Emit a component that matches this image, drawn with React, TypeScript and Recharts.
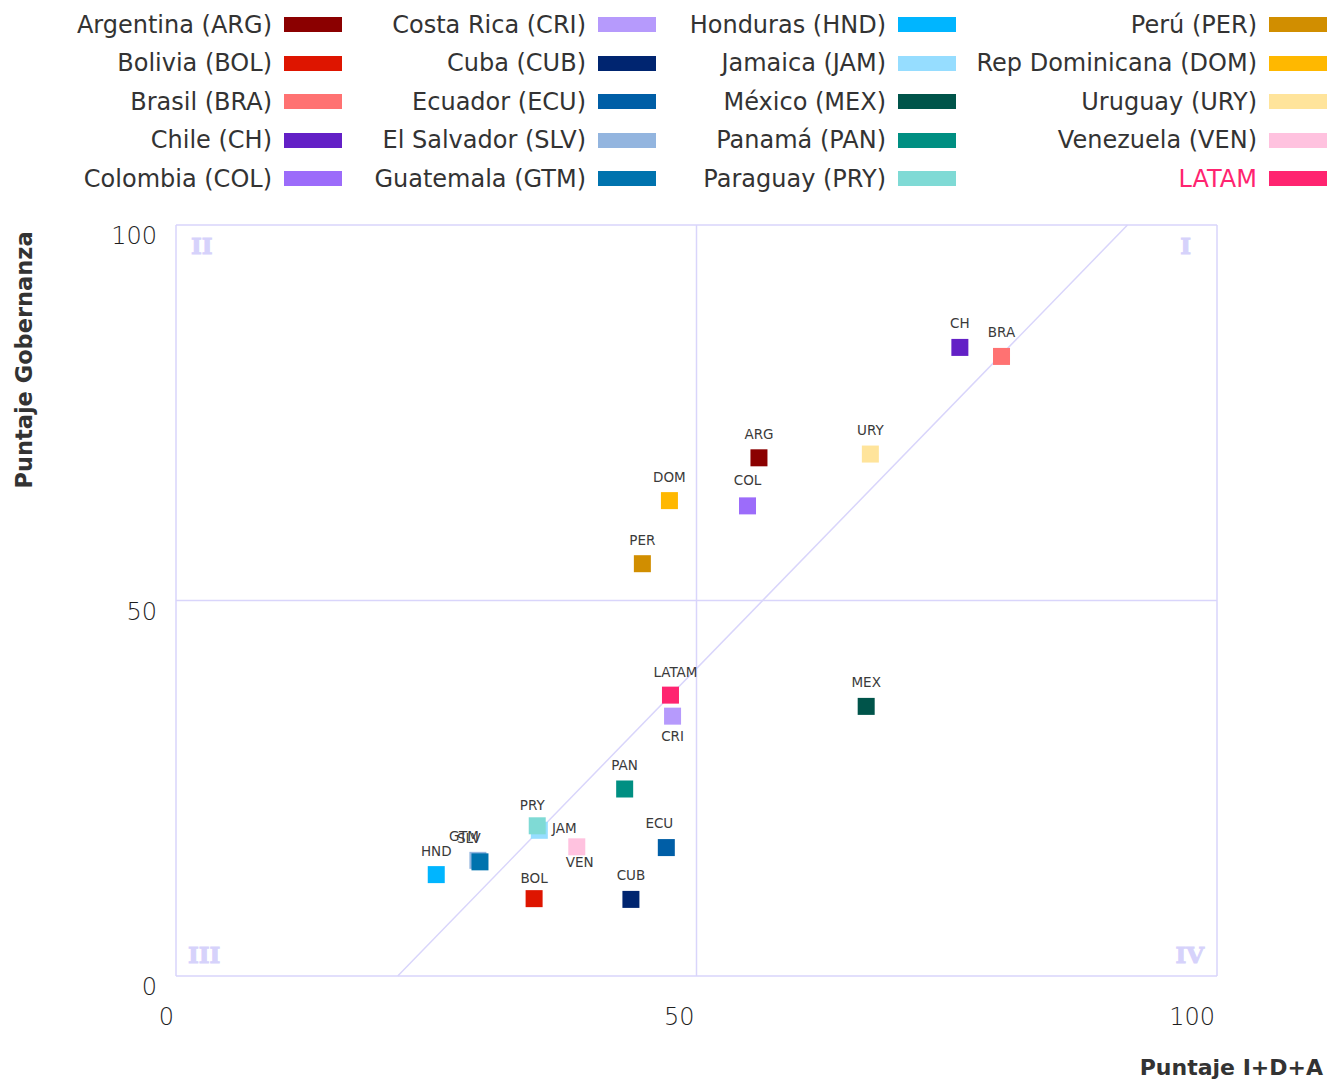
import React from 'react';
import { ScatterChart, Scatter, XAxis, YAxis, CartesianGrid, ReferenceLine, ReferenceArea } from 'recharts';

const codes = ['ARG', 'BOL', 'BRA', 'CH', 'COL', 'CRI', 'CUB', 'ECU', 'SLV', 'GTM', 'HND', 'JAM', 'MEX', 'PAN', 'PRY', 'PER', 'DOM', 'URY', 'VEN', 'LATAM'];
const names = [
  'Argentina (ARG)', 'Bolivia (BOL)', 'Brasil (BRA)', 'Chile (CH)', 'Colombia (COL)',
  'Costa Rica (CRI)', 'Cuba (CUB)', 'Ecuador (ECU)', 'El Salvador (SLV)', 'Guatemala (GTM)',
  'Honduras (HND)', 'Jamaica (JAM)', 'México (MEX)', 'Panamá (PAN)', 'Paraguay (PRY)',
  'Perú (PER)', 'Rep Dominicana (DOM)', 'Uruguay (URY)', 'Venezuela (VEN)', 'LATAM',
];
// Puntaje I+D+A
const idaScores = [56.0, 34.4, 79.3, 75.3, 54.9, 47.7, 43.7, 47.1, 29.0, 29.2, 25.0, 34.9, 66.3, 43.1, 34.7, 44.8, 47.4, 66.7, 38.5, 47.5];
// Puntaje Gobernanza
const govScores = [69.0, 10.3, 82.5, 83.7, 62.6, 34.6, 10.2, 17.1, 15.4, 15.2, 13.5, 19.4, 35.9, 24.9, 20.0, 54.9, 63.3, 69.5, 17.2, 37.4];
const colors = [
  '#8b0000', '#de1500', '#ff7272', '#6320c6', '#9c6cfa',
  '#b69afc', '#002570', '#005ea6', '#93b5df', '#0073ae',
  '#00b5ff', '#96ddff', '#00544a', '#008f82', '#7fdad5',
  '#d18e00', '#ffb800', '#ffe49b', '#ffc2df', '#ff2470',
];
const axisTicks = [0, 50, 100];
const trendLine = [{ x: 21.3, y: 0 }, { x: 91.4, y: 100 }];

// label offsets (px) relative to marker centre, default is above
const labelOffset: Record<string, [number, number]> = {
  CRI: [0, 25], VEN: [3, 20], JAM: [25, 3], ECU: [-7, -20], GTM: [-16, -21],
  SLV: [-9, -17], PRY: [-5, -16], LATAM: [5, -18], BOL: [0, -16], COL: [0, -21],
};

const lavender = '#d9d5fb';
const FONT = '"DejaVu Sans", sans-serif';

const points = codes.map((code, i) => ({ code, x: idaScores[i], y: govScores[i] }));

const SquareMark = (color: string) => (props: any) => {
  const { cx, cy, payload } = props;
  const [dx, dy] = labelOffset[payload.code] || [0, -19];
  return (
    <g>
      <rect x={cx - 8.5} y={cy - 8.5} width={17} height={17} fill={color} />
      <text x={cx + dx} y={cy + dy} textAnchor="middle" fontFamily={FONT} fontSize={13.5} fill="#3a3a3a">
        {payload.code}
      </text>
    </g>
  );
};

const XTick = (props: any) => {
  const { x, y, payload } = props;
  return (
    <text x={x - 2} y={y + 49} textAnchor="end" fontFamily={FONT} fontSize={24} fontWeight={300} fill="#1e1e1e">
      {payload.value}
    </text>
  );
};

const YTick = (props: any) => {
  const { x, y, payload } = props;
  return (
    <text x={x - 19} y={y + 19} textAnchor="end" fontFamily={FONT} fontSize={24} fontWeight={300} fill="#1e1e1e">
      {payload.value}
    </text>
  );
};

const quadrantLabel = (text: string, corner: string) => (props: any) => {
  const { x, y, width, height } = props.viewBox;
  let tx = x + 15;
  let ty = y + 29;
  let anchor: 'start' | 'end' = 'start';
  if (corner === 'tr') { tx = x + width - 26; anchor = 'end'; }
  if (corner === 'bl') { tx = x + 12; ty = y + height - 13; }
  if (corner === 'br') { tx = x + width - 13; ty = y + height - 13; anchor = 'end'; }
  return (
    <text
      x={tx}
      y={ty}
      textAnchor={anchor}
      fontFamily='"DejaVu Serif", serif'
      fontWeight="bold"
      fontSize={23}
      fill="#d6d2fb"
      stroke="#d6d2fb"
      strokeWidth={1}
    >
      {text}
    </text>
  );
};

const legendColumnsRight = [342, 656, 956, 1327];

function LegendBlock() {
  return (
    <>
      {codes.map((code, i) => {
        const col = Math.floor(i / 5);
        const row = i % 5;
        return (
          <div
            key={code}
            style={{
              position: 'absolute',
              right: 1328 - legendColumnsRight[col],
              top: 24.5 + row * 38.5 - 19,
              height: 38,
              display: 'flex',
              alignItems: 'center',
              justifyContent: 'flex-end',
              whiteSpace: 'nowrap',
              fontFamily: FONT,
              fontSize: 24,
              color: code === 'LATAM' ? colors[i] : '#333',
            }}
          >
            <span>{names[i]}</span>
            <span style={{ display: 'inline-block', width: 58, height: 15, marginLeft: 12, background: colors[i] }} />
          </div>
        );
      })}
    </>
  );
}

export default function App() {
  return (
    <div style={{ position: 'relative', width: 1328, height: 1082, background: '#fff' }}>
      <style>{'body{margin:0}'}</style>
      <ScatterChart width={1328} height={1082} margin={{ top: 225, right: 111, bottom: 0, left: 0 }}>
        <CartesianGrid stroke={lavender} strokeWidth={1.5} />
        <XAxis
          type="number"
          dataKey="x"
          domain={[0, 100]}
          ticks={axisTicks}
          height={106}
          axisLine={false}
          tickLine={false}
          tickSize={0}
          tickMargin={0}
          tick={<XTick />}
          interval={0}
        />
        <YAxis
          type="number"
          dataKey="y"
          domain={[0, 100]}
          ticks={axisTicks}
          width={176}
          axisLine={false}
          tickLine={false}
          tickSize={0}
          tickMargin={0}
          tick={<YTick />}
          interval={0}
        />
        <ReferenceArea x1={0} x2={50} y1={50} y2={100} fillOpacity={0} strokeOpacity={0} label={quadrantLabel('II', 'tl')} />
        <ReferenceArea x1={50} x2={100} y1={50} y2={100} fillOpacity={0} strokeOpacity={0} label={quadrantLabel('I', 'tr')} />
        <ReferenceArea x1={0} x2={50} y1={0} y2={50} fillOpacity={0} strokeOpacity={0} label={quadrantLabel('III', 'bl')} />
        <ReferenceArea x1={50} x2={100} y1={0} y2={50} fillOpacity={0} strokeOpacity={0} label={quadrantLabel('IV', 'br')} />
        <ReferenceLine segment={trendLine} stroke={lavender} strokeWidth={1.5} />
        {points.map((p, i) => (
          <Scatter
            key={p.code}
            name={names[i]}
            data={[p]}
            fill={colors[i]}
            shape={SquareMark(colors[i])}
            isAnimationActive={false}
          />
        ))}
        <text x={1323} y={1075} textAnchor="end" fontFamily={FONT} fontWeight="bold" fontSize={22} fill="#333">
          Puntaje I+D+A
        </text>
        <text
          x={32}
          y={360}
          textAnchor="middle"
          transform="rotate(-90 32 360)"
          fontFamily={FONT}
          fontWeight="bold"
          fontSize={22.5}
          fill="#333"
        >
          Puntaje Gobernanza
        </text>
      </ScatterChart>
      <LegendBlock />
    </div>
  );
}
